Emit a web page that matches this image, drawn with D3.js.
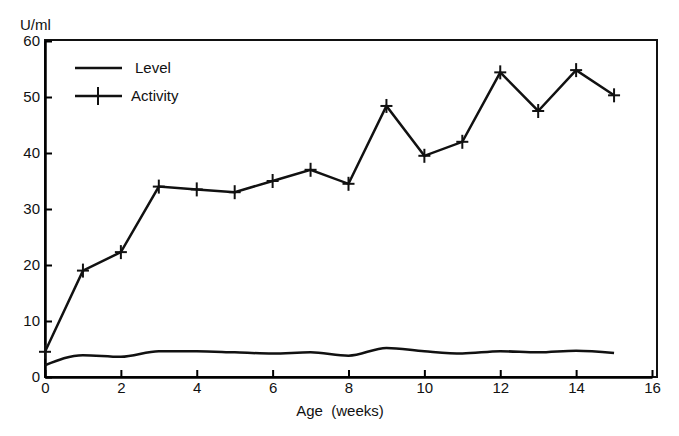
<!DOCTYPE html><html><head><meta charset="utf-8"><script src="https://cdn.jsdelivr.net/npm/d3@7"></script>
<style>body{margin:0;background:#fff}text{font-family:"Liberation Sans",Arial,sans-serif;fill:#111}</style></head><body>
<svg id="c" width="679" height="436"></svg>
<script>
const weeks=[0,1,2,3,4,5,6,7,8,9,10,11,12,13,14,15];
const activity=[4.5,19,22.3,34,33.5,33,35,37,34.5,48.4,39.5,42,54.4,47.5,54.8,50.3];
const level=[2.1,3.9,3.6,4.6,4.6,4.4,4.2,4.4,3.8,5.2,4.6,4.2,4.6,4.4,4.7,4.3];
const xTicks=[0,2,4,6,8,10,12,14,16], yTicks=[0,10,20,30,40,50,60];
const svg=d3.select("#c");
const x=d3.scaleLinear().domain([0,16]).range([45,652]);
const y=d3.scaleLinear().domain([0,60]).range([377,41]);
svg.append("rect").attr("x",45).attr("y",40).attr("width",612).attr("height",337).attr("fill","none").attr("stroke","#111").attr("stroke-width",2);
svg.append("g").attr("transform","translate(0,377)").call(d3.axisBottom(x).tickValues(xTicks).tickSizeInner(-7).tickSizeOuter(0).tickPadding(5))
 .call(g=>{g.select(".domain").attr("stroke-width",2.5);g.selectAll("line").attr("stroke-width",2);g.selectAll("text").attr("font-size",15).attr("font-family","Liberation Sans");});
svg.append("g").attr("transform","translate(45,0)").call(d3.axisLeft(y).tickValues(yTicks).tickSizeInner(-7).tickSizeOuter(0).tickPadding(5))
 .call(g=>{g.select(".domain").attr("stroke-width",2.5);g.selectAll("line").attr("stroke-width",2);g.selectAll("text").attr("font-size",15).attr("font-family","Liberation Sans");});
const line=d3.line().x((d,i)=>x(weeks[i])).y(d=>y(d));
svg.append("path").datum(activity).attr("d",line).attr("fill","none").attr("stroke","#111").attr("stroke-width",2.5);
svg.append("path").datum(level).attr("d",line.curve(d3.curveMonotoneX)).attr("fill","none").attr("stroke","#111").attr("stroke-width",2.5);
const m=svg.append("g");
activity.forEach((d,i)=>{const cx=x(weeks[i]),cy=y(d);
 m.append("line").attr("x1",cx-6).attr("x2",cx+6).attr("y1",cy).attr("y2",cy).attr("stroke","#111").attr("stroke-width",2);
 m.append("line").attr("x1",cx).attr("x2",cx).attr("y1",cy-7).attr("y2",cy+7).attr("stroke","#111").attr("stroke-width",2);});
svg.append("line").attr("x1",75).attr("x2",122).attr("y1",68).attr("y2",68).attr("stroke","#111").attr("stroke-width",2.5);
svg.append("text").attr("x",135).attr("y",73).attr("font-size",15).text("Level");
svg.append("line").attr("x1",75).attr("x2",122).attr("y1",96).attr("y2",96).attr("stroke","#111").attr("stroke-width",2.5);
svg.append("line").attr("x1",98).attr("x2",98).attr("y1",87).attr("y2",105).attr("stroke","#111").attr("stroke-width",2);
svg.append("text").attr("x",131).attr("y",101).attr("font-size",15).text("Activity");
svg.append("text").attr("x",20).attr("y",30).attr("font-size",15).text("U/ml");
svg.append("text").attr("x",340).attr("y",416).attr("font-size",15).attr("text-anchor","middle").attr("xml:space","preserve").text("Age  (weeks)");
</script></body></html>
